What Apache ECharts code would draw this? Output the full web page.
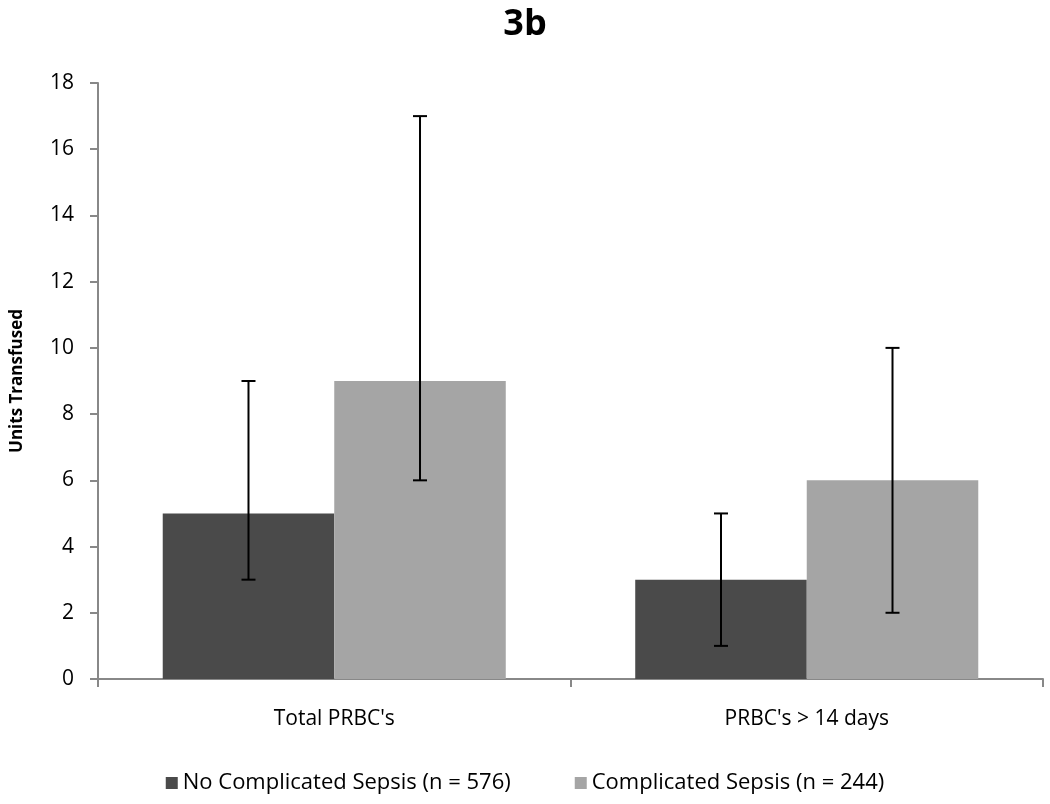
<!DOCTYPE html>
<html>
<head>
<meta charset="utf-8">
<script src="https://cdn.jsdelivr.net/npm/echarts@6/dist/echarts.min.js"></script>
<style>
html, body { margin: 0; padding: 0; background: #fff; }
#chart { width: 1050px; height: 804px; }
</style>
</head>
<body>
<div id="chart"></div>
<script>
var categories = ["Total PRBC's", "PRBC's > 14 days"];
var seriesNames = ['No Complicated Sepsis (n = 576)', 'Complicated Sepsis (n = 244)'];
var noSepsis = [5, 3];
var noSepsisLow = [3, 1];
var noSepsisHigh = [9, 5];
var sepsis = [9, 6];
var sepsisLow = [6, 2];
var sepsisHigh = [17, 10];
var yTicks = { min: 0, max: 18, interval: 2 };

var barPct = 0.363;
var fontFam = '"Open Sans", "DejaVu Sans", sans-serif';
var myChart = echarts.init(document.getElementById('chart'));

// error bars drawn as custom series, offset to each bar's centre
function errorBars(lows, highs, side) {
    var data = [];
    for (var i = 0; i < categories.length; i++) {
        data.push([i, lows[i], highs[i]]);
    }
    return {
        type: 'custom',
        silent: true,
        z: 10,
        data: data,
        renderItem: function (params, api) {
            var catW = api.size([1, 0])[0];
            var off = side * catW * barPct / 2;
            var lo = api.coord([api.value(0), api.value(1)]);
            var hi = api.coord([api.value(0), api.value(2)]);
            var x = lo[0] + off;
            var cap = 7;
            var st = { stroke: '#000', lineWidth: 2 };
            return {
                type: 'group',
                children: [
                    { type: 'line', shape: { x1: x, y1: hi[1], x2: x, y2: lo[1] }, style: st },
                    { type: 'line', shape: { x1: x - cap, y1: hi[1], x2: x + cap, y2: hi[1] }, style: st },
                    { type: 'line', shape: { x1: x - cap, y1: lo[1], x2: x + cap, y2: lo[1] }, style: st }
                ]
            };
        }
    };
}

var option = {
    backgroundColor: '#fff',
    animation: false,
    title: {
        text: '3b',
        left: 'center',
        top: 2,
        textStyle: { fontFamily: fontFam, fontSize: 36, fontWeight: 'bold', color: '#000' }
    },
    legend: {
        data: seriesNames,
        bottom: 5,
        left: 'center',
        itemWidth: 12,
        itemHeight: 12,
        itemGap: 64,
        icon: 'rect',
        textStyle: { fontFamily: fontFam, fontSize: 22, color: '#000' }
    },
    grid: { left: 98, right: 7, top: 83, bottom: 125, containLabel: false, outerBoundsMode: 'none' },
    xAxis: {
        type: 'category',
        data: categories,
        axisLine: { lineStyle: { color: '#888', width: 2 } },
        axisTick: { show: true, alignWithLabel: false, length: 8, lineStyle: { color: '#888', width: 2 } },
        axisLabel: { fontFamily: fontFam, fontSize: 21, color: '#000', margin: 30 }
    },
    yAxis: {
        type: 'value',
        min: yTicks.min,
        max: yTicks.max,
        interval: yTicks.interval,
        name: 'Units Transfused',
        nameLocation: 'middle',
        nameGap: 72,
        nameTextStyle: { fontFamily: fontFam, fontSize: 17, fontWeight: 'bold', color: '#000' },
        axisLine: { show: true, lineStyle: { color: '#888', width: 2 } },
        axisTick: { show: true, length: 8, lineStyle: { color: '#888', width: 2 } },
        splitLine: { show: false },
        axisLabel: { fontFamily: fontFam, fontSize: 21, color: '#000', margin: 24 }
    },
    series: [
        {
            name: seriesNames[0],
            type: 'bar',
            data: noSepsis,
            barWidth: (barPct * 100) + '%',
            barGap: '0%',
            itemStyle: { color: '#4a4a4a' }
        },
        {
            name: seriesNames[1],
            type: 'bar',
            data: sepsis,
            barWidth: (barPct * 100) + '%',
            barGap: '0%',
            itemStyle: { color: '#a5a5a5' }
        },
        errorBars(noSepsisLow, noSepsisHigh, -1),
        errorBars(sepsisLow, sepsisHigh, 1)
    ]
};

myChart.setOption(option);
</script>
</body>
</html>
